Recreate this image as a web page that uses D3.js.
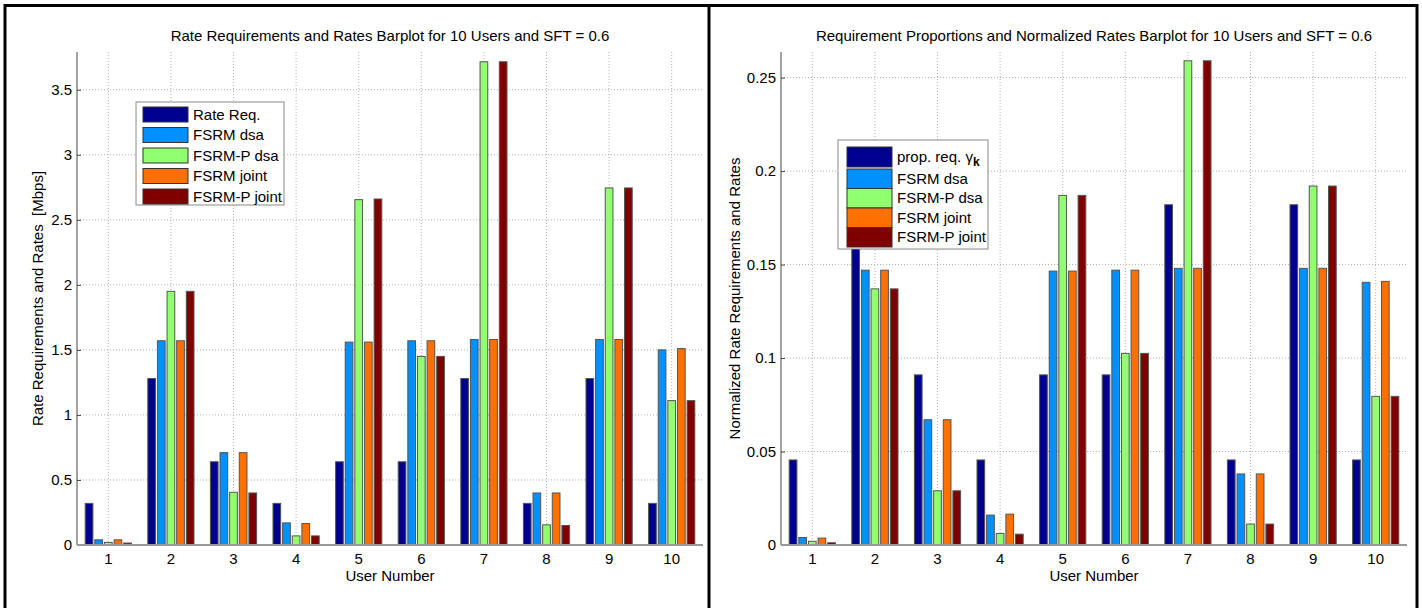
<!DOCTYPE html>
<html>
<head>
<meta charset="utf-8">
<script src="https://cdn.jsdelivr.net/npm/d3@7"></script>
<style>
  body { margin: 0; background: #fff; }
  svg text { font-family: "Liberation Sans", Arial, sans-serif; fill: #000; }
</style>
</head>
<body>
<svg id="chart" width="1422" height="608"></svg>
<script>
// data
const users = [1, 2, 3, 4, 5, 6, 7, 8, 9, 10];
const seriesNames = ['Rate Req.', 'FSRM dsa', 'FSRM-P dsa', 'FSRM joint', 'FSRM-P joint'];
const seriesColors = ['#000090', '#0090ff', '#90ff70', '#ff7000', '#800000'];

// left panel, Mbps
const rateReq    = [0.32, 1.28, 0.64, 0.32, 0.64, 0.64, 1.28, 0.32, 1.28, 0.32];
const fsrmDsa    = [0.04, 1.57, 0.71, 0.17, 1.56, 1.57, 1.58, 0.40, 1.58, 1.50];
const fsrmPDsa   = [0.02, 1.95, 0.405, 0.07, 2.655, 1.45, 3.715, 0.155, 2.745, 1.11];
const fsrmJoint  = [0.04, 1.57, 0.71, 0.165, 1.56, 1.57, 1.58, 0.40, 1.58, 1.51];
const fsrmPJoint = [0.015, 1.95, 0.40, 0.07, 2.66, 1.45, 3.715, 0.15, 2.745, 1.11];
const leftTicks = [0, 0.5, 1, 1.5, 2, 2.5, 3, 3.5];

// right panel, normalized
const propReq     = [0.0455, 0.182, 0.091, 0.0455, 0.091, 0.091, 0.182, 0.0455, 0.182, 0.0455];
const nFsrmDsa    = [0.004, 0.147, 0.067, 0.016, 0.1465, 0.147, 0.148, 0.038, 0.148, 0.1405];
const nFsrmPDsa   = [0.002, 0.137, 0.029, 0.0062, 0.187, 0.1025, 0.259, 0.0112, 0.192, 0.0795];
const nFsrmJoint  = [0.0037, 0.147, 0.067, 0.0165, 0.1465, 0.147, 0.148, 0.038, 0.148, 0.141];
const nFsrmPJoint = [0.0012, 0.137, 0.029, 0.0058, 0.187, 0.1025, 0.259, 0.0112, 0.192, 0.0795];
const rightTicks = [0, 0.05, 0.1, 0.15, 0.2, 0.25];

const FS = 15;
const svg = d3.select('#chart');

// panel frames
svg.append('path')
    .attr('d', 'M5,608 V5.5 H1417 V608 M709,5.5 V608')
    .attr('fill', 'none')
    .attr('stroke', '#000')
    .attr('stroke-width', 3);

function drawPanel(opts) {
    const margin = {left: opts.left, top: 52};
    const width = 626, height = 493;

    const g = svg.append('g')
        .attr('transform', `translate(${margin.left},${margin.top})`);

    const x = d3.scaleBand().domain(users).range([0, width])
        .paddingInner(0.231).paddingOuter(0.1155);
    const xs = d3.scaleBand().domain(d3.range(5)).range([0, x.bandwidth()])
        .paddingInner(0.2).paddingOuter(0.1);
    const y = d3.scaleLinear().domain([0, opts.ymax]).range([height, 0]);

    // grid
    g.append('g').selectAll('line.gx').data(users).join('line')
        .attr('x1', d => x(d) + x.bandwidth() / 2).attr('x2', d => x(d) + x.bandwidth() / 2)
        .attr('y1', 0).attr('y2', height)
        .attr('stroke', '#b0b0b0').attr('stroke-dasharray', '1,2');
    g.append('g').selectAll('line.gy').data(opts.ticks.slice(1)).join('line')
        .attr('x1', 0).attr('x2', width)
        .attr('y1', d => y(d)).attr('y2', d => y(d))
        .attr('stroke', '#b0b0b0').attr('stroke-dasharray', '1,2');

    // bars
    const groups = g.append('g').selectAll('g').data(users).join('g')
        .attr('transform', d => `translate(${x(d)},0)`);
    groups.selectAll('rect').data((d, i) => opts.series.map((s, k) => ({k, v: s[i]}))).join('rect')
        .attr('x', d => xs(d.k))
        .attr('width', xs.bandwidth())
        .attr('y', d => y(d.v))
        .attr('height', d => y(0) - y(d.v))
        .attr('fill', d => seriesColors[d.k])
        .attr('stroke', '#555')
        .attr('stroke-width', 1);

    // axes
    const yAxis = g.append('g')
        .call(d3.axisLeft(y).tickValues(opts.ticks).tickSize(-4).tickPadding(5)
            .tickFormat(d3.format('')));
    yAxis.select('.domain').attr('stroke', '#444').attr('d', `M0,${height}V0`);
    yAxis.selectAll('.tick line').attr('stroke', '#444');
    yAxis.selectAll('text').attr('font-size', FS).attr('font-family', '"Liberation Sans", Arial, sans-serif');

    const xAxis = g.append('g')
        .attr('transform', `translate(0,${height})`)
        .call(d3.axisBottom(x).tickSize(0).tickPadding(8));
    xAxis.select('.domain').attr('stroke', '#999').attr('stroke-width', 2).attr('d', `M0,0H${width}`);
    xAxis.selectAll('text').attr('font-size', FS).attr('font-family', '"Liberation Sans", Arial, sans-serif');

    // labels
    g.append('text')
        .attr('x', width / 2).attr('y', -11)
        .attr('text-anchor', 'middle').attr('font-size', FS)
        .text(opts.title);
    g.append('text')
        .attr('x', width / 2).attr('y', height + 36)
        .attr('text-anchor', 'middle').attr('font-size', FS)
        .text('User Number');
    g.append('text')
        .attr('transform', `translate(${opts.ylabelX},${height / 2}) rotate(-90)`)
        .attr('text-anchor', 'middle').attr('font-size', FS)
        .style('white-space', 'pre')
        .text(opts.ylabel);

    // legend
    const lg = svg.append('g').attr('transform', `translate(${opts.legend.x},${opts.legend.y})`);
    lg.append('rect')
        .attr('width', opts.legend.w).attr('height', opts.legend.h)
        .attr('fill', '#fff').attr('stroke', '#888');
    opts.legend.rows.forEach((r, k) => {
        lg.append('rect')
            .attr('x', opts.legend.sx).attr('y', r.y)
            .attr('width', 45).attr('height', r.h)
            .attr('fill', seriesColors[k]).attr('stroke', '#333');
        const t = lg.append('text')
            .attr('x', opts.legend.sx + 50).attr('y', r.y + r.h / 2 + 5)
            .attr('font-size', FS);
        if (k === 0 && opts.legend.gamma) {
            t.text('prop. req. ');
            t.append('tspan').text('\u03b3');
            t.append('tspan').attr('font-size', 12).attr('dy', 4).attr('font-weight', 'bold').text('k');
        } else {
            t.text(opts.legend.names[k]);
        }
    });
}

drawPanel({
    left: 77,
    ymax: 3.79,
    ticks: leftTicks,
    series: [rateReq, fsrmDsa, fsrmPDsa, fsrmJoint, fsrmPJoint],
    title: 'Rate Requirements and Rates Barplot for 10 Users and SFT = 0.6',
    ylabel: 'Rate Requirements and Rates  [Mbps]',
    ylabelX: -34,
    legend: {
        x: 136, y: 102, w: 148, h: 103, sx: 7,
        names: seriesNames,
        rows: [{y: 5, h: 15}, {y: 25.5, h: 15}, {y: 46, h: 15}, {y: 66.5, h: 15}, {y: 87, h: 15}]
    }
});

drawPanel({
    left: 781,
    ymax: 0.2637,
    ticks: rightTicks,
    series: [propReq, nFsrmDsa, nFsrmPDsa, nFsrmJoint, nFsrmPJoint],
    title: 'Requirement Proportions and Normalized Rates Barplot for 10 Users and SFT = 0.6',
    ylabel: 'Normalized Rate Requirements and Rates',
    ylabelX: -41,
    legend: {
        x: 838, y: 140, w: 150, h: 109, sx: 9, gamma: true,
        names: seriesNames,
        rows: [{y: 7, h: 20}, {y: 29, h: 19.5}, {y: 48.5, h: 19.5}, {y: 68, h: 19.5}, {y: 87.5, h: 19.5}]
    }
});
</script>
</body>
</html>
